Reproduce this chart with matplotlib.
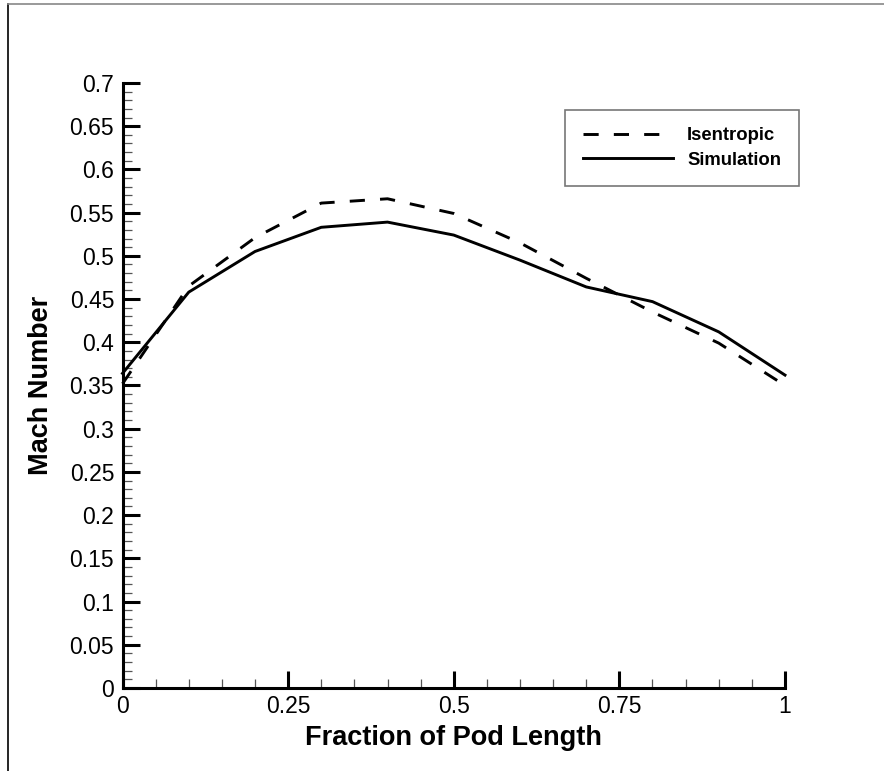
import matplotlib
matplotlib.use('Agg')
import matplotlib.pyplot as plt
from matplotlib.lines import Line2D
from matplotlib.ticker import MultipleLocator

plt.rcParams.update({
    'font.family': ['Liberation Sans', 'DejaVu Sans'],
    'axes.linewidth': 2.2,
})

# data
frac = [0.0, 0.1, 0.2, 0.3, 0.4, 0.5, 0.6, 0.7, 0.8, 0.9, 1.0]
isentropic = [0.352, 0.465, 0.521, 0.561, 0.566, 0.549, 0.515, 0.474, 0.435, 0.399, 0.350]
simulation = [0.364, 0.458, 0.505, 0.533, 0.539, 0.524, 0.495, 0.464, 0.447, 0.412, 0.362]

xticks = [0, 0.25, 0.5, 0.75, 1]
xtick_labels = ['0', '0.25', '0.5', '0.75', '1']
yticks = [round(0.05 * i, 2) for i in range(15)]
ytick_labels = ['0', '0.05', '0.1', '0.15', '0.2', '0.25', '0.3', '0.35',
                '0.4', '0.45', '0.5', '0.55', '0.6', '0.65', '0.7']

fig = plt.figure(figsize=(8.84, 7.71), dpi=100)
ax = fig.add_axes([0.1386, 0.1077, 0.7494, 0.7847])

ax.plot(frac, isentropic, color='black', lw=2.1, dashes=(5.2, 5.2),
        label='Isentropic', clip_on=False)
ax.plot(frac, simulation, color='black', lw=2.1, label='Simulation', clip_on=False)

ax.set_xlim(0, 1)
ax.set_ylim(0, 0.7)
ax.set_xticks(xticks)
ax.set_xticklabels(xtick_labels)
ax.set_yticks(yticks)
ax.set_yticklabels(ytick_labels)
ax.xaxis.set_minor_locator(MultipleLocator(0.05))
ax.yaxis.set_minor_locator(MultipleLocator(0.01))

ax.tick_params(which='major', direction='in', length=12, width=2.2,
               labelsize=16.5, colors='black')
ax.tick_params(axis='x', which='major', pad=5)
ax.tick_params(axis='y', which='major', pad=6)
ax.tick_params(which='minor', direction='in', length=6.5, width=0.9, color='#555555')
for s in ['top', 'right']:
    ax.spines[s].set_visible(False)

ax.set_xlabel('Fraction of Pod Length', fontsize=19.5, fontweight='bold', labelpad=5)
ax.set_ylabel('Mach Number', fontsize=19.5, fontweight='bold', labelpad=11)

leg = ax.legend(loc='center', bbox_to_anchor=(0.7715, 0.808),
                bbox_transform=fig.transFigure, frameon=True, fancybox=False,
                prop={'weight': 'bold', 'size': 13.3}, handlelength=4.9,
                handletextpad=0.75, borderpad=0.95, labelspacing=0.4)
leg.get_frame().set_edgecolor('#777777')
leg.get_frame().set_linewidth(1.2)
leg.get_frame().set_alpha(1)

# page frame seen around the original image
fig.add_artist(Line2D([0.0095, 0.0095], [0.0, 0.9948], transform=fig.transFigure,
                      color='black', lw=1.2))
fig.add_artist(Line2D([0.0095, 1.0], [0.9948, 0.9948], transform=fig.transFigure,
                      color='#888888', lw=1.2))

fig.savefig('out.png', dpi=100)
